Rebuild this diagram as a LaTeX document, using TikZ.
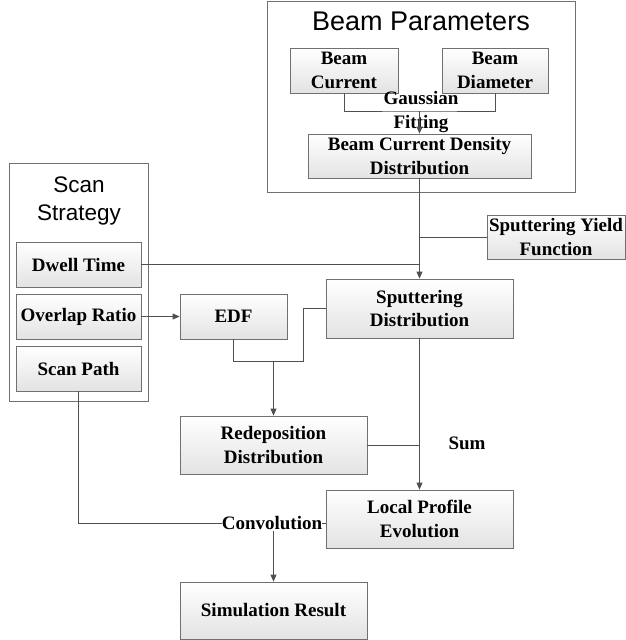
\documentclass[tikz,border=0pt]{standalone}
\usepackage{fontspec}
\setmainfont{Liberation Serif}
\newfontfamily\titlefont{Liberation Sans}
\usetikzlibrary{arrows.meta,shadows}
\definecolor{linec}{HTML}{505050}
\definecolor{boxc}{HTML}{707070}
\tikzset{
  box/.style={draw=boxc, line width=0.8pt, top color=white, bottom color=black!11,
    drop shadow={shadow xshift=1.2pt, shadow yshift=-1.2pt, fill=black!25, opacity=0.6},
    inner sep=0pt, align=center, font=\fontsize{19}{23.5}\selectfont\bfseries},
  group/.style={draw=boxc, line width=0.8pt, inner sep=0pt},
  conn/.style={draw=linec, line width=0.8pt},
  arr/.style={conn, -{Triangle[width=6pt,length=7pt]}},
  lbl/.style={inner sep=1pt, align=center, font=\fontsize{19}{23.5}\selectfont\bfseries},
  ttl/.style={inner sep=0pt, align=center, font=\titlefont\fontsize{27}{28}\selectfont}
}
\begin{document}
\begin{tikzpicture}[x=1pt,y=-1pt]
\useasboundingbox (0,0) rectangle (626,640);
% groups
\node[group, minimum width=308pt, minimum height=191pt] (bp) at (421,96.5) {};
\node[ttl] (bpt) at (421,21) {Beam Parameters};
\node[group, minimum width=139pt, minimum height=238pt] (ss) at (78.5,282) {};
\node[ttl, font=\titlefont\fontsize{22.5}{28}\selectfont] (sst) at (79,201) {Scan\\Strategy};
% boxes
\node[box, minimum width=108pt, minimum height=45pt] (bc) at (344,70.5) {Beam\\Current};
\node[box, minimum width=106pt, minimum height=45pt] (bd) at (495,70.5) {Beam\\Diameter};
\node[box, minimum width=223pt, minimum height=44pt] (bcdd) at (419.5,156) {Beam Current Density\\Distribution};
\node[box, minimum width=138pt, minimum height=44pt] (syf) at (556,237) {Sputtering Yield\\Function};
\node[box, minimum width=125pt, minimum height=45pt] (dt) at (78.5,264.5) {Dwell Time};
\node[box, minimum width=125pt, minimum height=45pt] (ovr) at (78.5,316.5) {Overlap Ratio};
\node[box, minimum width=125pt, minimum height=45pt] (sp) at (78.5,368.5) {Scan Path};
\node[box, minimum width=107pt, minimum height=45pt] (edf) at (233.5,316.5) {EDF};
\node[box, minimum width=187pt, minimum height=59pt] (sd) at (419.5,308.5) {Sputtering\\Distribution};
\node[box, minimum width=187pt, minimum height=58pt] (rd) at (273.5,445) {Redeposition\\Distribution};
\node[box, minimum width=187pt, minimum height=58pt] (lpe) at (419.5,519) {Local Profile\\Evolution};
\node[box, minimum width=187pt, minimum height=57pt] (sr) at (273.5,610.5) {Simulation Result};
% labels
\node[lbl] (gf) at (421,112) {Gaussian\\Fitting};
\node[lbl] (sum) at (467,443) {Sum};
\node[lbl, inner xsep=0pt] (conv) at (272,523) {Convolution};
% connectors
\coordinate (g1) at (419.5,111);
\draw[conn] (bc.south) |- (g1) -| (bd.south);
\draw[arr] (g1) -- (bcdd.north);
\draw[arr] (bcdd.south) -- (sd.north);
\draw[conn] (syf.west) -- (syf.west -| sd.north);
\draw[conn] (dt.east) -- (dt.east -| sd.north);
\draw[arr] (ovr.east) -- (edf.west);
\coordinate (j1) at (303,361);
\draw[conn] (edf.south) |- (j1) |- (sd.west);
\draw[arr] (rd.north |- j1) -- (rd.north);
\draw[arr] (sd.south) -- (lpe.north);
\draw[conn] (rd.east) -- (rd.east -| sd.south);
\draw[conn] (sp.south) |- (conv.west);
\draw[conn] (conv.east) -- (conv.east -| lpe.west);
\draw[arr] (conv.south -| sr.north) -- (sr.north);
\end{tikzpicture}
\end{document}
